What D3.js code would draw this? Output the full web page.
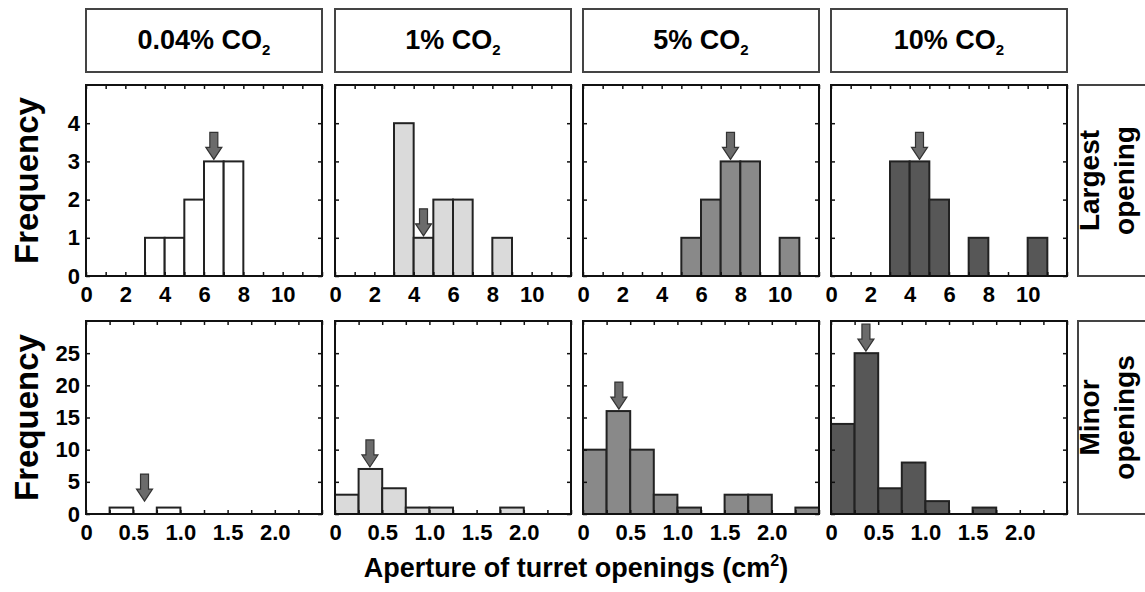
<!DOCTYPE html>
<html>
<head>
<meta charset="utf-8">
<script src="https://cdn.jsdelivr.net/npm/d3@7"></script>
<style>
  html, body { margin: 0; padding: 0; background: #fff; }
  svg { display: block; font-family: "Liberation Sans", Arial, sans-serif; font-weight: bold; }
</style>
</head>
<body>
<svg id="chart" width="1145" height="592"></svg>
<script>
// ---------- data ----------
const conditions = ["0.04%", "1%", "5%", "10%"];
const rowLabels = [["Largest", "opening"], ["Minor", "openings"]];

// Largest opening: bins of width 1 cm², starting at 0
const largestBinStarts = [0, 1, 2, 3, 4, 5, 6, 7, 8, 9, 10, 11];
const largest004 = [0, 0, 0, 1, 1, 2, 3, 3, 0, 0, 0, 0];
const largest1   = [0, 0, 0, 4, 1, 2, 2, 0, 1, 0, 0, 0];
const largest5   = [0, 0, 0, 0, 0, 1, 2, 3, 3, 0, 1, 0];
const largest10  = [0, 0, 0, 3, 3, 2, 0, 1, 0, 0, 1, 0];

// Minor openings: bins of width 0.25 cm², starting at 0
const minorBinStarts = [0, 0.25, 0.5, 0.75, 1.0, 1.25, 1.5, 1.75, 2.0, 2.25];
const minor004 = [0, 1, 0, 1, 0, 0, 0, 0, 0, 0];
const minor1   = [3, 7, 4, 1, 1, 0, 0, 1, 0, 0];
const minor5   = [10, 16, 10, 3, 1, 0, 3, 3, 0, 1];
const minor10  = [14, 25, 4, 8, 2, 0, 1, 0, 0, 0];

// median arrows [x, y] in data units
const largestArrows = [[6.5, 3], [4.5, 1], [7.5, 3], [4.5, 3]];
const minorArrows   = [[0.62, 1.7], [0.37, 7], [0.38, 16], [0.37, 25]];

// axis ticks
const largestXTicks = [0, 1, 2, 3, 4, 5, 6, 7, 8, 9, 10, 11, 12];
const largestXLabels = [0, 2, 4, 6, 8, 10];
const largestYTicks = [0, 1, 2, 3, 4];
const minorXTicks = [0, 0.25, 0.5, 0.75, 1.0, 1.25, 1.5, 1.75, 2.0, 2.25, 2.5];
const minorXLabels = [0, 0.5, 1.0, 1.5, 2.0];
const minorYTicks = [0, 5, 10, 15, 20, 25];

// ---------- layout ----------
const svg = d3.select("#chart");
const fills = ["#ffffff", "#dadada", "#898989", "#575757"];
const panelX = [86, 335, 583, 831];
const panelW = 236;
const rows = [
  { top: 85, bottom: 276, binStarts: largestBinStarts, binW: 1, counts: [largest004, largest1, largest5, largest10],
    xDomain: [0, 12], yDomain: [0, 5], xTicks: largestXTicks, xLabels: largestXLabels, yTicks: largestYTicks,
    arrows: largestArrows, fmt: d => String(d) },
  { top: 321, bottom: 514, binStarts: minorBinStarts, binW: 0.25, counts: [minor004, minor1, minor5, minor10],
    xDomain: [0, 2.5], yDomain: [0, 30], xTicks: minorXTicks, xLabels: minorXLabels, yTicks: minorYTicks,
    arrows: minorArrows, fmt: d => d === 0 ? "0" : d.toFixed(1) }
];

// header boxes
conditions.forEach((c, i) => {
  const g = svg.append("g");
  g.append("rect").attr("x", panelX[i]).attr("y", 9).attr("width", panelW).attr("height", 63)
    .attr("fill", "#fff").attr("stroke", "#444").attr("stroke-width", 2);
  const t = g.append("text").attr("x", panelX[i] + panelW / 2).attr("y", 49)
    .attr("text-anchor", "middle").attr("font-size", 27).attr("fill", "#000");
  t.append("tspan").text(c + " CO");
  t.append("tspan").text("2").attr("font-size", 15).attr("dy", 6);
});

rows.forEach((row, r) => {
  // Frequency label
  svg.append("text")
    .attr("transform", `translate(38,${(row.top + row.bottom) / 2}) rotate(-90)`)
    .attr("text-anchor", "middle").attr("font-size", 33).attr("fill", "#000")
    .text("Frequency");

  // right label box
  svg.append("rect").attr("x", 1078).attr("y", row.top).attr("width", 80).attr("height", row.bottom - row.top)
    .attr("fill", "#fff").attr("stroke", "#444").attr("stroke-width", 2);
  rowLabels[r].forEach((lbl, k) => {
    svg.append("text")
      .attr("transform", `translate(${1099 + k * 35},${(row.top + row.bottom) / 2}) rotate(-90)`)
      .attr("text-anchor", "middle").attr("font-size", 28).attr("fill", "#000")
      .text(lbl);
  });

  for (let i = 0; i < 4; i++) {
    const x = d3.scaleLinear().domain(row.xDomain).range([panelX[i], panelX[i] + panelW]);
    const y = d3.scaleLinear().domain(row.yDomain).range([row.bottom, row.top]);
    const g = svg.append("g");

    // bars
    const bars = row.binStarts.map((s, k) => ({ x0: s, x1: s + row.binW, n: row.counts[i][k] })).filter(d => d.n > 0);
    g.selectAll("rect.bar").data(bars).join("rect").attr("class", "bar")
      .attr("x", d => x(d.x0)).attr("y", d => y(d.n))
      .attr("width", d => x(d.x1) - x(d.x0)).attr("height", d => y(0) - y(d.n))
      .attr("fill", fills[i]).attr("stroke", "#222").attr("stroke-width", 2);

    // ticks (inward) on all four sides
    const tickStyle = sel => {
      sel.select(".domain").remove();
      sel.selectAll(".tick line").attr("stroke", "#111").attr("stroke-width", 1.5);
    };
    g.append("g").attr("transform", `translate(0,${row.bottom})`)
      .call(d3.axisBottom(x).tickValues(row.xTicks).tickSize(-4).tickFormat("")).call(tickStyle);
    g.append("g").attr("transform", `translate(0,${row.top})`)
      .call(d3.axisTop(x).tickValues(row.xTicks).tickSize(-4).tickFormat("")).call(tickStyle);
    g.append("g").attr("transform", `translate(${panelX[i] + panelW},0)`)
      .call(d3.axisRight(y).tickValues(row.yTicks).tickSize(-4).tickFormat("")).call(tickStyle);
    g.append("g").attr("transform", `translate(${panelX[i]},0)`)
      .call(d3.axisLeft(y).tickValues(row.yTicks).tickSize(-4).tickFormat("")).call(tickStyle);

    // x labels
    const xl = g.append("g").attr("transform", `translate(0,${row.bottom})`)
      .call(d3.axisBottom(x).tickValues(row.xLabels).tickSize(0).tickPadding(10).tickFormat(row.fmt));
    xl.select(".domain").remove();
    xl.selectAll("text").attr("font-size", 22).attr("font-family", "Liberation Sans, Arial, sans-serif")
      .attr("font-weight", "bold").attr("fill", "#000");

    // y labels (first column only)
    if (i === 0) {
      const yl = g.append("g").attr("transform", `translate(${panelX[i]},0)`)
        .call(d3.axisLeft(y).tickValues(row.yTicks).tickSize(0).tickPadding(6).tickFormat(d3.format("d")));
      yl.select(".domain").remove();
      yl.selectAll("text").attr("font-size", 22).attr("font-family", "Liberation Sans, Arial, sans-serif")
        .attr("font-weight", "bold").attr("fill", "#000");
    }

    // frame
    g.append("rect").attr("x", panelX[i]).attr("y", row.top).attr("width", panelW).attr("height", row.bottom - row.top)
      .attr("fill", "none").attr("stroke", "#111").attr("stroke-width", 2);

    // arrow
    const [ax, ay] = row.arrows[i];
    const tx = x(ax), ty = y(ay) - 2;
    const path = `M${tx},${ty} L${tx - 8},${ty - 12} L${tx - 4},${ty - 12} L${tx - 4},${ty - 27} L${tx + 4},${ty - 27} L${tx + 4},${ty - 12} L${tx + 8},${ty - 12} Z`;
    g.append("path").attr("d", path).attr("fill", "#6b6b6b").attr("stroke", "#333").attr("stroke-width", 1.2);
  }
});

// x axis title
const title = svg.append("text").attr("x", 576).attr("y", 577).attr("text-anchor", "middle")
  .attr("font-size", 27).attr("fill", "#000");
title.append("tspan").text("Aperture of turret openings (cm");
title.append("tspan").text("2").attr("font-size", 16).attr("dy", -11);
title.append("tspan").text(")").attr("dy", 11);
</script>
</body>
</html>
